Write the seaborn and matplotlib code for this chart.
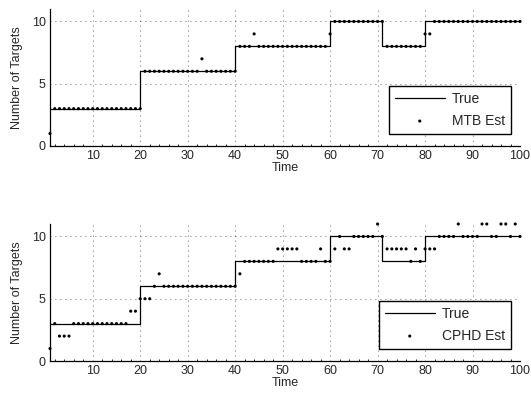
import numpy as np
import pandas as pd
import matplotlib
matplotlib.use("Agg")
import matplotlib.pyplot as plt
import seaborn as sns
from matplotlib.ticker import MultipleLocator

time = list(range(1, 101))
true_counts = [3]*20 + [6]*20 + [8]*20 + [10]*11 + [8]*9 + [10]*20

mtb_est = ([1] + [3]*19 + [6]*12 + [7] + [6]*7 + [8]*3 + [9] + [8]*15 + [9]
           + [10]*11 + [8]*8 + [9, 9] + [10]*19)

cphd_est = ([1, 3, 2, 2, 2] + [3]*12 + [4, 4, 5] + [5, 5, 6, 7] + [6]*16 + [7] + [8]*7
            + [9]*5 + [8]*4 + [9, 8, 8] + [9, 10, 9, 9] + [10]*5 + [11, 10]
            + [9]*5 + [8, 9, 8, 9, 9, 9] + [10]*4 + [11] + [10]*4
            + [11, 11, 10, 10, 11, 11, 10, 11, 10])

x_ticks = [10, 20, 30, 40, 50, 60, 70, 80, 90, 100]
y_ticks = [0, 5, 10]

sns.set_style("white")
plt.rcParams['font.family'] = ['Liberation Sans', 'DejaVu Sans']

fig = plt.figure(figsize=(5.31, 3.98), dpi=100)
ax1 = fig.add_axes([50/531, 1-146/398, 470/531, 137/398])
ax2 = fig.add_axes([50/531, 1-361/398, 470/531, 137/398])

for ax, est, name in [(ax1, mtb_est, 'MTB Est'), (ax2, cphd_est, 'CPHD Est')]:
    df = pd.DataFrame({'Time': time, 'True': true_counts, 'Est': est})
    sns.lineplot(data=df, x='Time', y='True', ax=ax, color='black', lw=0.9,
                 drawstyle='steps-pre', label='True', estimator=None)
    sns.scatterplot(data=df, x='Time', y='Est', ax=ax, color='black', s=5,
                    marker='o', edgecolor='none', label=name, zorder=3, clip_on=False)
    ax.set_xlim(1, 100)
    ax.set_ylim(0, 11)
    ax.set_xticks(x_ticks)
    ax.set_yticks(y_ticks)
    ax.xaxis.set_minor_locator(MultipleLocator(2))
    ax.grid(True, which='major', linestyle=(0, (1, 5)), color='black', lw=0.6, alpha=0.8)
    ax.tick_params(axis='both', which='major', direction='in', length=3, labelsize=9,
                   color='black', width=0.8, pad=3)
    ax.tick_params(axis='x', which='minor', direction='in', length=1.5, color='black', width=0.6, bottom=True)
    for s in ['top', 'right']:
        ax.spines[s].set_visible(False)
    for s in ['left', 'bottom']:
        ax.spines[s].set_color('black')
        ax.spines[s].set_linewidth(0.9)
    ax.set_xlabel('Time', fontsize=9, labelpad=0)
    ax.set_ylabel('Number of Targets', fontsize=9, labelpad=6)
    leg = ax.legend(loc='lower right', bbox_to_anchor=(0.981, 0.088), borderaxespad=0,
                    fontsize=10, frameon=True, fancybox=False, edgecolor='black',
                    markerscale=1.0, handlelength=3.6, borderpad=0.45, labelspacing=0.55,
                    handletextpad=0.5)
    leg.get_frame().set_linewidth(1.0)
    leg.get_frame().set_alpha(1)

fig.savefig('out.png', dpi=100)
